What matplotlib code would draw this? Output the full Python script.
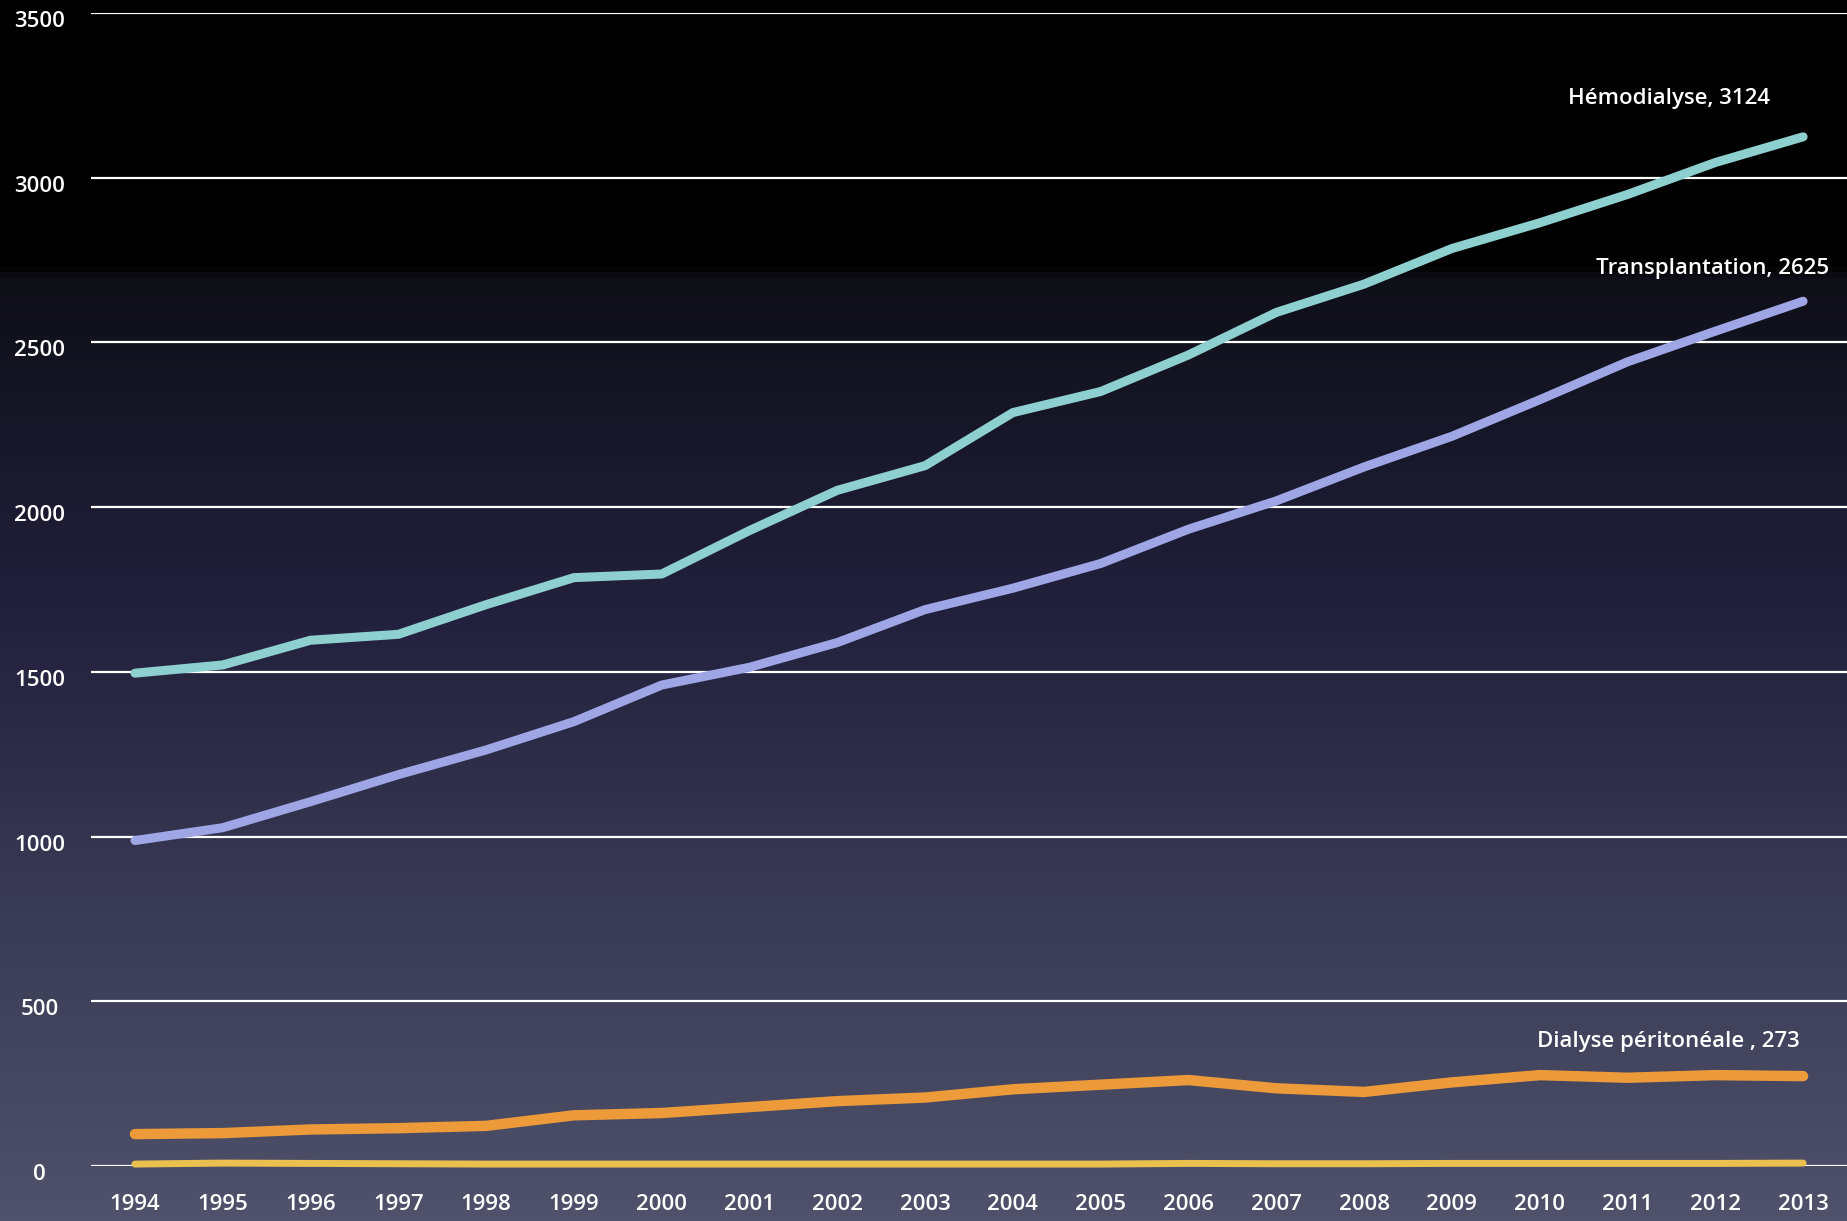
import numpy as np
import matplotlib.pyplot as plt
import matplotlib.transforms as mtransforms
from matplotlib.colors import LinearSegmentedColormap

years = [str(y) for y in range(1994, 2014)]

hemodialyse = [1496, 1521, 1596, 1614, 1704, 1786, 1797, 1929, 2051, 2126,
               2287, 2351, 2462, 2591, 2677, 2785, 2863, 2949, 3046, 3124]
transplantation = [988, 1027, 1106, 1188, 1263, 1349, 1460, 1514, 1589, 1689,
                   1754, 1829, 1933, 2019, 2122, 2215, 2326, 2441, 2534, 2625]
dialyse_peri = [97, 100, 111, 115, 122, 154, 161, 179, 197, 208,
                233, 247, 261, 236, 225, 254, 276, 268, 276, 273]
autre = [6, 9, 8, 7, 6, 6, 6, 6, 6, 6,
         6, 6, 8, 7, 7, 8, 8, 8, 8, 9]

yticks = [0, 500, 1000, 1500, 2000, 2500, 3000, 3500]

plt.rcParams['font.family'] = ['Open Sans', 'DejaVu Sans']

fig = plt.figure(figsize=(18.47, 12.21), dpi=100)

# background gradient
bg = fig.add_axes([0, 0, 1, 1], zorder=0)
cmap = LinearSegmentedColormap.from_list('bg', [
    (0.0, '#000000'), (0.215, '#000000'), (0.228, '#0f0f18'),
    (0.5, '#22203c'), (0.75, '#3a3b56'), (1.0, '#4f526a')])
grad = np.linspace(0, 1, 1221).reshape(-1, 1)
bg.imshow(grad, aspect='auto', cmap=cmap, extent=[0, 1, 0, 1], origin='upper')
bg.axis('off')

ax = fig.add_axes([0.0493, 0.045, 0.9507, 0.9444], zorder=1)
ax.patch.set_alpha(0)
x = np.arange(len(years))

ax.plot(x, autre, color='#ebc050', lw=5, solid_capstyle='round', zorder=3, clip_on=False)
ax.plot(x, dialyse_peri, color='#ec9a3a', lw=7.5, solid_capstyle='round', zorder=3)
ax.plot(x, transplantation, color='#9ea6e6', lw=6.5, solid_capstyle='round', zorder=3)
ax.plot(x, hemodialyse, color='#8ecfcf', lw=6.5, solid_capstyle='round', zorder=3)

ax.set_xlim(-0.5, len(years) - 0.5)
ax.set_ylim(0, 3500)
ax.set_yticks(yticks)
ax.set_xticks(x)
ax.set_xticklabels(years)
for s in ax.spines.values():
    s.set_visible(False)
ax.grid(axis='y', color='white', lw=1.6, zorder=1)
ax.set_axisbelow(True)
ax.tick_params(length=0, colors='white', labelsize=16)
ax.tick_params(axis='x', pad=20)
ax.tick_params(axis='y', pad=37)
down = mtransforms.ScaledTranslation(0, -0.06, fig.dpi_scale_trans)
for lab in ax.get_yticklabels():
    lab.set_fontweight('semibold')
    lab.set_horizontalalignment('center')
    lab.set_transform(lab.get_transform() + down)
for lab in ax.get_xticklabels():
    lab.set_fontweight('semibold')

tx = dict(color='white', fontsize=16, fontweight='semibold',
          textcoords='offset pixels', ha='right', va='center')
ax.annotate('Hémodialyse, 3124', (x[-1], hemodialyse[-1]), xytext=(-33, 38), **tx)
ax.annotate('Transplantation, 2625', (x[-1], transplantation[-1]), xytext=(26, 33), **tx)
ax.annotate('Dialyse péritonéale , 273', (x[-1], dialyse_peri[-1]), xytext=(-3, 35), **tx)

fig.savefig('out.png', dpi=100)
